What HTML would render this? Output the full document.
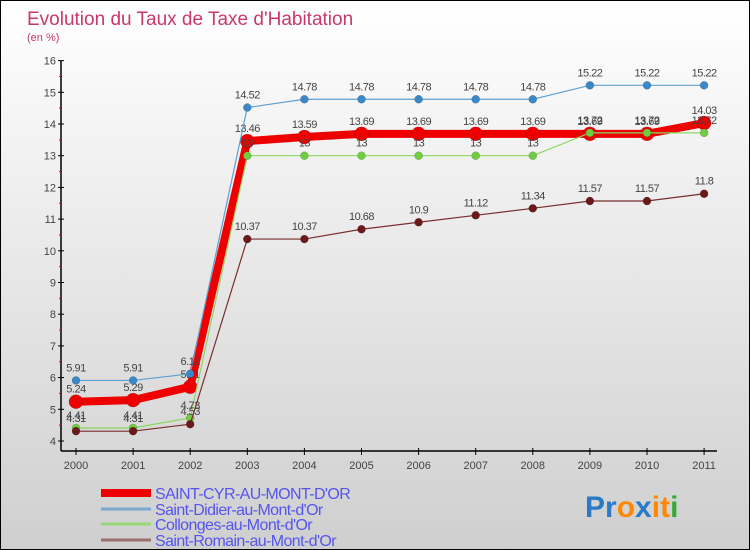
<!DOCTYPE html>
<html><head><meta charset="utf-8"><style>
body{margin:0}
#c{width:748px;height:548px;border:1px solid #000;position:relative;background:linear-gradient(#ffffff,#cfcfcf);font-family:"Liberation Sans",sans-serif;overflow:hidden}
</style></head><body>
<div id="c">
<svg id="s" width="748" height="548"></svg>
</div>
<script>
const years=["2000","2001","2002","2003","2004","2005","2006","2007","2008","2009","2010","2011"];
const yTicks=[4,5,6,7,8,9,10,11,12,13,14,15,16];
const cyr=[5.24,5.29,5.71,13.46,13.59,13.69,13.69,13.69,13.69,13.69,13.69,14.03];
const didier=[5.91,5.91,6.12,14.52,14.78,14.78,14.78,14.78,14.78,15.22,15.22,15.22];
const collonges=[4.41,4.41,4.73,13,13,13,13,13,13,13.72,13.72,13.72];
const romain=[4.31,4.31,4.53,10.37,10.37,10.68,10.9,11.12,11.34,11.57,11.57,11.8];
const names=["SAINT-CYR-AU-MONT-D'OR","Saint-Didier-au-Mont-d'Or","Collonges-au-Mont-d'Or","Saint-Romain-au-Mont-d'Or"];
const NS="http://www.w3.org/2000/svg";
const s=document.getElementById('s');
const X=i=>75+i*57.1;
const Y=v=>440-(v-4)*31.7;
function mk(t,a,p){const e=document.createElementNS(NS,t);for(const k in a)e.setAttribute(k,a[k]);(p||s).appendChild(e);return e;}
function txt(x,y,str,a){const e=mk('text',Object.assign({x:x,y:y},a));e.textContent=str;return e;}
let t=txt(26,24,"Evolution du Taux de Taxe d'Habitation",{'font-size':19,fill:'#c8386c'});

t=txt(26,40,"(en %)",{'font-size':11,fill:'#c8386c'});

let ax=mk('line',{x1:60,y1:60,x2:60,y2:450,stroke:'#000','stroke-width':1.5});

ax=mk('line',{x1:60,y1:450,x2:716,y2:450,stroke:'#000','stroke-width':1.5});

yTicks.forEach((v,i)=>{mk('line',{x1:57,y1:Y(v),x2:63,y2:Y(v),stroke:'#000'});
 let l=txt(55,Y(v)+4,String(v),{'font-size':11,fill:'#444','text-anchor':'end'});
 
 if(i<yTicks.length-1)mk('line',{x1:58,y1:Y(v+0.5),x2:61,y2:Y(v+0.5),stroke:'#d00'});});
years.forEach((y,i)=>{mk('line',{x1:X(i),y1:447,x2:X(i),y2:454,stroke:'#000'});
 let l=txt(X(i),468,y,{'font-size':11,fill:'#444','text-anchor':'middle'});
 });
function series(d,col,w,r,fill,name){
 const g=mk('g',{});
 mk('polyline',{points:d.map((v,i)=>X(i)+','+Y(v)).join(' '),fill:'none',stroke:col,'stroke-width':w,'stroke-linejoin':'round'},g);
 d.forEach((v,i)=>{const c=mk('circle',{cx:X(i),cy:Y(v),r:r,fill:fill,stroke:'rgba(0,0,0,0.25)','stroke-width':0.5},g);
  
  txt(X(i),Y(v)-9,String(v),{'font-size':11,fill:'#444','text-anchor':'middle','letter-spacing':'-0.5'},g);});
}
series(cyr,'#ee0000',8,7,'#ee0000','series-saint-cyr');
series(didier,'#5fa0d0',1.2,4,'#3a88c8','series-saint-didier');
series(collonges,'#8cd860',1.2,4,'#70cc40','series-collonges');
series(romain,'#7a2e2e',1.2,4,'#6a1a1a','series-saint-romain');
const lc=['#ee0000','#7aaad0','#98d878','#987070'],lw=[8,3,3,3],ly=[492,508,523,539];
names.forEach((n,i)=>{const g=mk('g',{});
 mk('rect',{x:100,y:ly[i]-lw[i]/2,width:50,height:lw[i],fill:lc[i]},g);
 txt(154,ly[i]+6,n,{'font-size':16,fill:'#5555ee','letter-spacing':'-0.6'},g);});
const lg=mk('g',{});
const lt=mk('text',{x:584,y:516,'font-size':30,'font-weight':'bold'},lg);
[['P','#2a7ac8'],['r','#2a7ac8'],['o','#ff8800'],['x','#2a7ac8'],['i','#ff8800'],['t','#ff8800'],['i','#33aa33']].forEach(([c,f])=>{const sp=mk('tspan',{fill:f},lt);sp.textContent=c;});
</script>
</body></html>
